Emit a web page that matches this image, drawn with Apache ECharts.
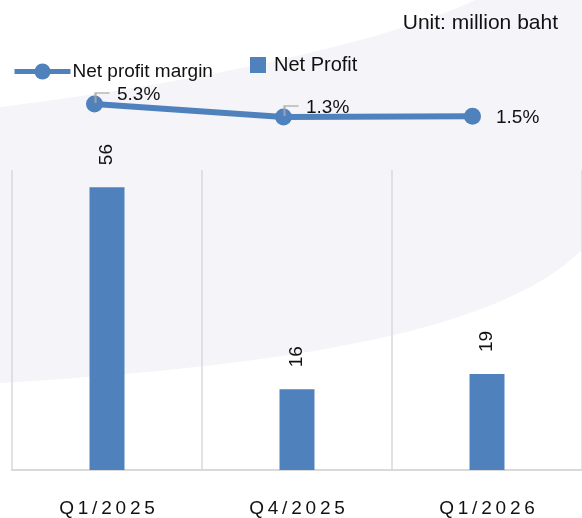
<!DOCTYPE html>
<html>
<head>
<meta charset="utf-8">
<script src="https://cdn.jsdelivr.net/npm/echarts@6/dist/echarts.min.js"></script>
<style>
    html, body { margin:0; padding:0; background:#fff; }
    #chart { width:582px; height:518px; }
</style>
</head>
<body>
<div id="chart"></div>
<script>
// quarters on the x axis
const categories = ['Q1/2025', 'Q4/2025', 'Q1/2026'];
// net profit, million baht
const netProfit = [56, 16, 19];
// net profit margin, %
const netMargin = [5.3, 1.3, 1.5];
// which margin labels get a small gray leader line
const leaderOn = [true, true, false];

const blue = '#4f81bd';
const font = 'Liberation Sans, Arial, sans-serif';

let myChart = echarts.init(document.getElementById('chart'));

// background swoosh, sampled from two cubic curves
function cubic(p0, p1, p2, p3, n) {
    const pts = [];
    for (let i = 0; i <= n; i++) {
        const t = i / n, u = 1 - t;
        pts.push([
            u*u*u*p0[0] + 3*u*u*t*p1[0] + 3*u*t*t*p2[0] + t*t*t*p3[0],
            u*u*u*p0[1] + 3*u*u*t*p1[1] + 3*u*t*t*p2[1] + t*t*t*p3[1]
        ]);
    }
    return pts;
}
const swoosh = cubic([0,107],[180,85],[380,45],[475,0],30)
    .concat([[582,0]])
    .concat(cubic([582,250],[500,330],[300,365],[0,383],30));

const marginData = netMargin.map((v, i) => ({
    value: v,
    label: leaderOn[i] ? { offset: [0, -9] } : { offset: [1, 1] }
}));
const leaderData = netMargin.map((v, i) => leaderOn[i] ? v : '-');

let option = {
    animation: false,
    textStyle: { fontFamily: font },
    graphic: [{
        type: 'polygon',
        z: -10,
        silent: true,
        shape: { points: swoosh },
        style: { fill: '#f5f5f9' }
    }],
    title: {
        text: 'Unit: million baht',
        right: 24,
        top: 13,
        padding: 0,
        textStyle: { fontSize: 21, fontWeight: 'normal', color: '#111', fontFamily: font }
    },
    legend: [{
        data: ['Net profit margin'],
        left: 12,
        top: 62,
        padding: 0,
        itemWidth: 56,
        itemHeight: 20,
        itemGap: 0,
        lineStyle: { width: 5 },
        textStyle: { fontSize: 19, color: '#111', padding: [0, 0, 0, -3] }
    }, {
        data: [{ name: 'Net Profit', icon: 'rect' }],
        left: 250,
        top: 55,
        padding: 0,
        itemWidth: 16,
        itemHeight: 16,
        textStyle: { fontSize: 20, color: '#111', padding: [0, 0, 0, 3] }
    }],
    grid: [{
        left: 12,
        right: 0,
        top: 170,
        bottom: 47
    }, {
        left: -3,
        width: 570,
        top: 88.7,
        height: 32.5
    }],
    xAxis: [{
        type: 'category',
        gridIndex: 0,
        data: categories,
        axisLine: { lineStyle: { color: '#d9d9d9', width: 2 } },
        axisTick: { show: false },
        splitLine: { show: true, lineStyle: { color: '#d9d9d9', width: 1.5 } },
        axisLabel: {
            color: '#111',
            fontSize: 19,
            margin: 29,
            formatter: v => v.split('').join('\u2009')
        }
    }, {
        type: 'category',
        gridIndex: 1,
        data: categories,
        show: false
    }],
    yAxis: [{
        type: 'value',
        gridIndex: 0,
        min: 0,
        max: 59.4,
        show: false,
        splitLine: { show: false }
    }, {
        type: 'value',
        gridIndex: 1,
        min: 0,
        max: 10,
        show: false,
        splitLine: { show: false }
    }],
    series: [{
        name: 'Net Profit',
        type: 'bar',
        xAxisIndex: 0,
        yAxisIndex: 0,
        data: netProfit,
        barWidth: 35,
        itemStyle: { color: blue },
        label: {
            show: true,
            position: 'top',
            distance: 22,
            rotate: 90,
            align: 'left',
            verticalAlign: 'middle',
            fontSize: 19,
            color: '#111'
        }
    }, {
        name: 'Net profit margin',
        type: 'line',
        xAxisIndex: 1,
        yAxisIndex: 1,
        data: marginData,
        clip: false,
        symbol: 'circle',
        symbolSize: 17,
        lineStyle: { color: blue, width: 6 },
        itemStyle: { color: blue },
        label: {
            show: true,
            position: 'right',
            distance: 14,
            fontSize: 19,
            color: '#111',
            formatter: p => p.value + '%'
        },
        z: 3
    }, {
        name: 'leader',
        type: 'scatter',
        xAxisIndex: 1,
        yAxisIndex: 1,
        data: leaderData,
        clip: false,
        silent: true,
        symbol: 'path://M0,10L0,0L14,0',
        symbolSize: [14, 10],
        symbolOffset: [8, -6],
        itemStyle: { color: 'rgba(0,0,0,0)', borderColor: '#a6a6a6', borderWidth: 2 },
        z: 4
    }]
};
myChart.setOption(option);
</script>
</body>
</html>
